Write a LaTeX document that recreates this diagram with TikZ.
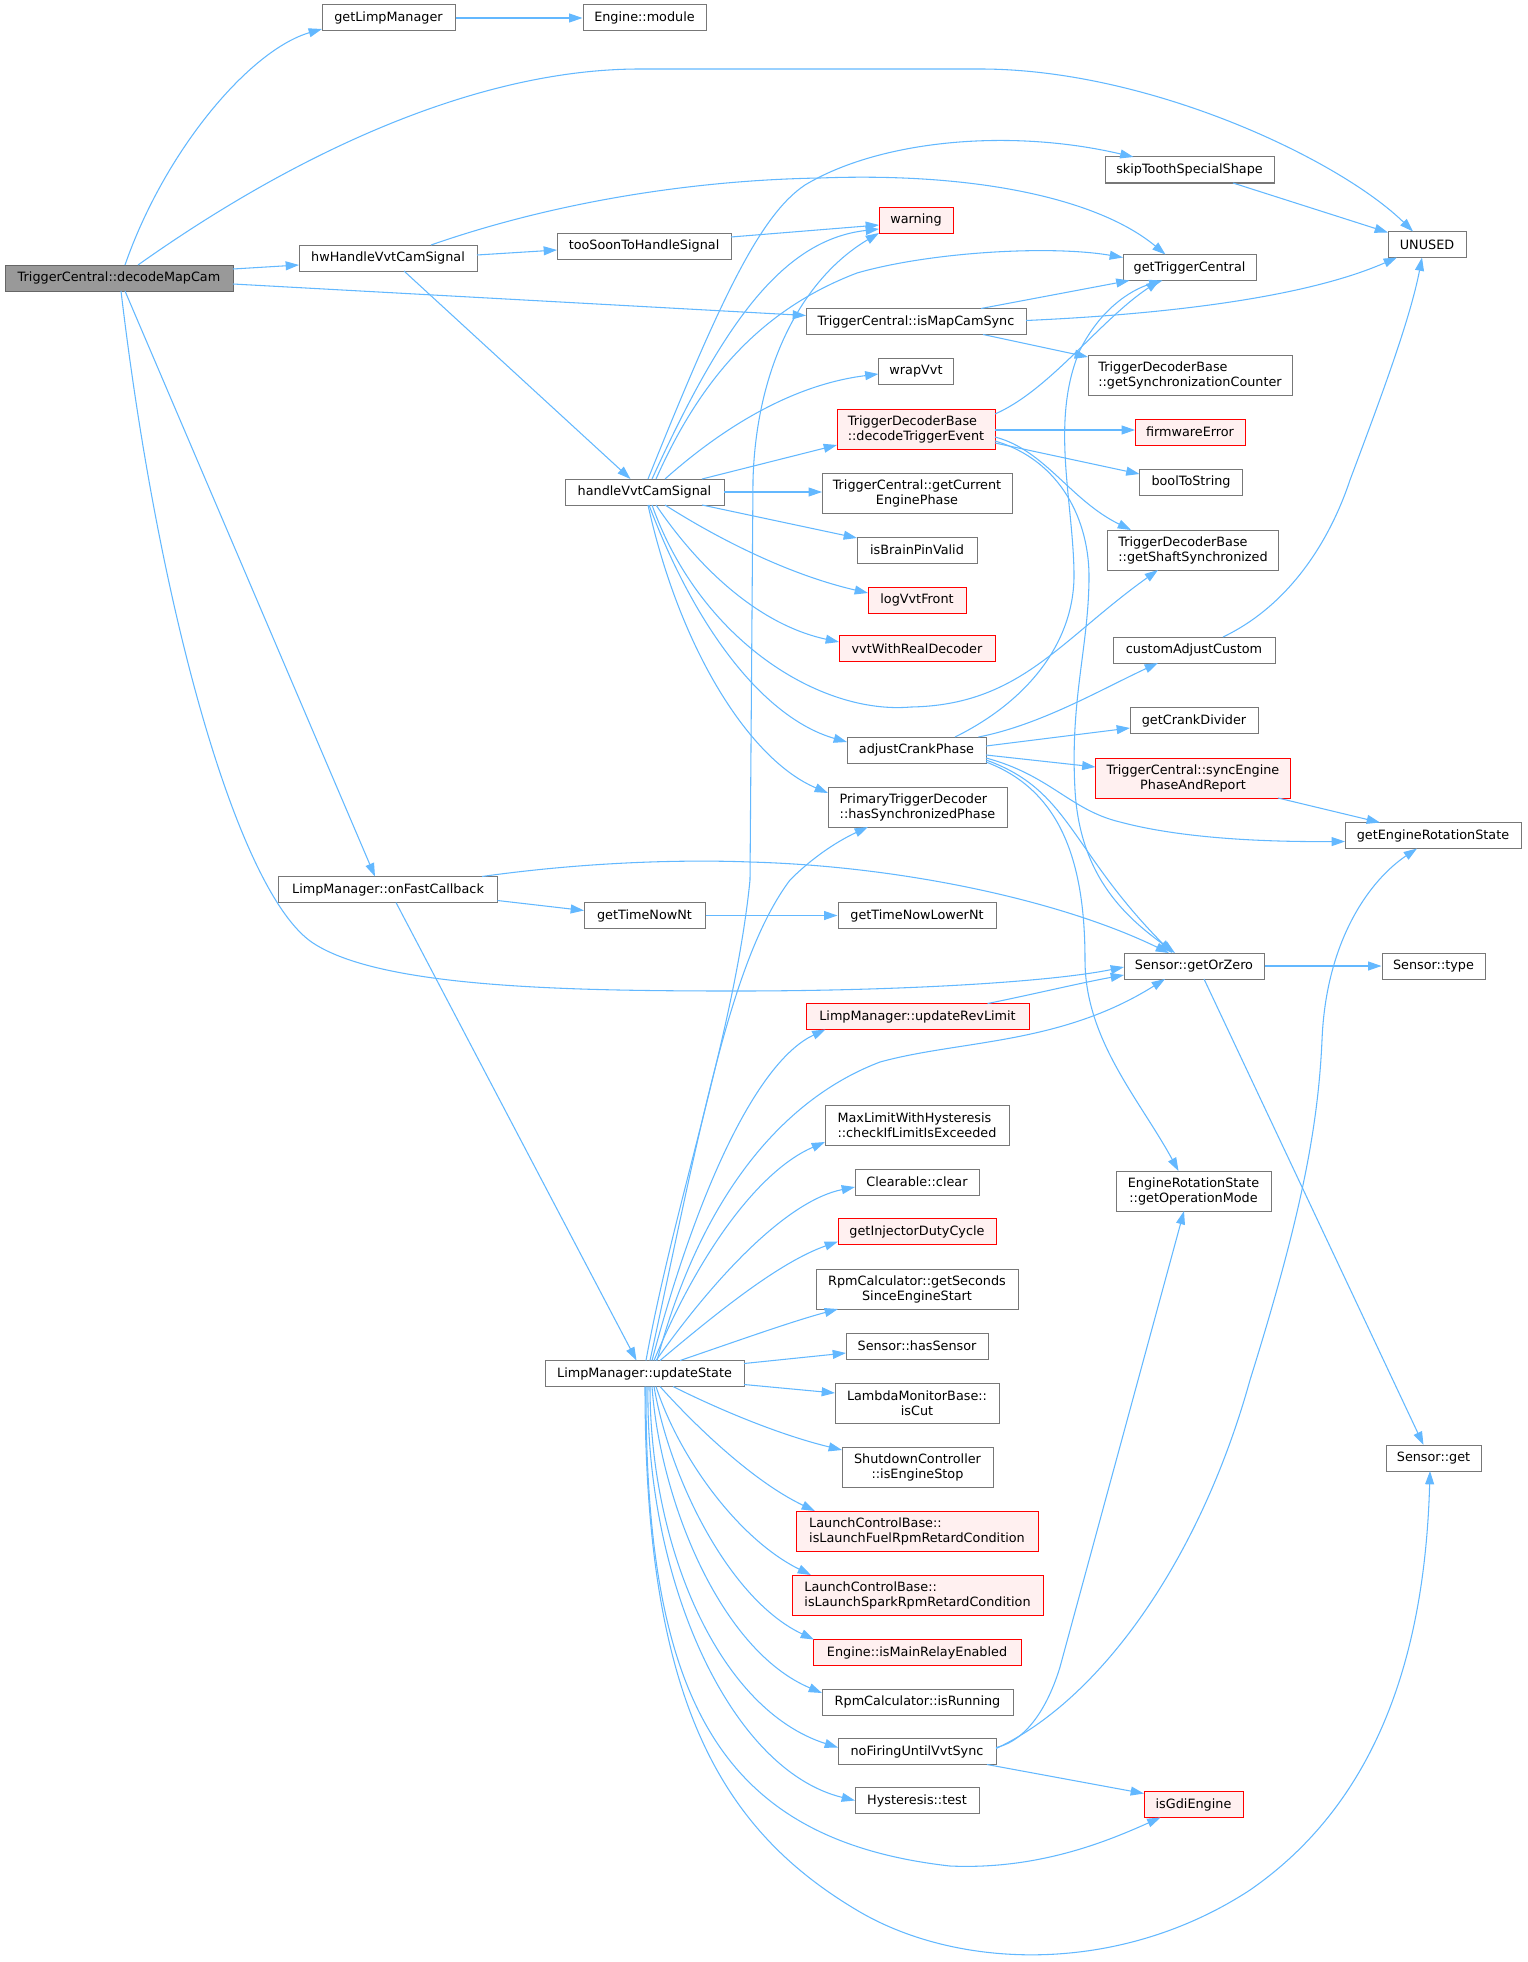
\documentclass[tikz,border=0pt]{standalone}
\usepackage{fontspec}
\usetikzlibrary{arrows.meta,calc}
\newfontfamily\dvs{DejaVu Sans}
\newcommand\fnt{\dvs\fontsize{9.6pt}{11.3pt}\selectfont}
\definecolor{edgec}{HTML}{63B8FF}
\definecolor{nodeg}{HTML}{777777}
\definecolor{rootf}{HTML}{999999}
\definecolor{rootd}{HTML}{666666}
\definecolor{hotf}{HTML}{FFF0F0}
\definecolor{hotd}{HTML}{FF0000}
\tikzset{
  x=0.75pt, y=-0.75pt,
  fn/.style={draw=nodeg, fill=white, line width=0.75pt, inner sep=0pt, minimum height=19.5pt, font=\fnt, text=black},
  W/.style={minimum width=#1*0.75pt},
  two/.style={minimum height=30pt},
  hot/.style={draw=hotd, fill=hotf},
  rootn/.style={draw=rootd, fill=rootf},
  e/.style={draw=edgec, line width=0.8pt, -{Triangle[length=10pt,width=6.7pt]}},
}
\begin{document}
\begin{tikzpicture}
\useasboundingbox (0,0) rectangle (1527,1962);
% nodes
\node[fn,rootn,W=228] (root) at (119,278) {TriggerCentral::decodeMapCam};
\node[fn,W=133] (glm) at (388.5,18) {getLimpManager};
\node[fn,W=123] (emod) at (644.5,18) {Engine::module};
\node[fn,W=178] (hw) at (388,258) {hwHandleVvtCamSignal};
\node[fn,W=174] (tsh) at (644,246) {tooSoonToHandleSignal};
\node[fn,W=159] (hv) at (644.5,492) {handleVvtCamSignal};
\node[fn,W=169] (skip) at (1189.5,170) {skipToothSpecialShape};
\node[fn,hot,W=74] (warn) at (916,220) {warning};
\node[fn,W=133] (gtc) at (1189.5,267.5) {getTriggerCentral};
\node[fn,W=78] (unused) at (1427,244.5) {UNUSED};
\node[fn,W=220] (imcs) at (916,321.5) {TriggerCentral::isMapCamSync};
\node[fn,two,W=204,align=left] (gsc) at (1190,375) {TriggerDecoderBase\\::getSynchronizationCounter};
\node[fn,W=75] (wrap) at (916,371.5) {wrapVvt};
\node[fn,two,hot,W=158,align=left] (dte) at (916,429) {TriggerDecoderBase\\::decodeTriggerEvent};
\node[fn,hot,W=110] (fwe) at (1190,432) {firmwareError};
\node[fn,W=103] (bts) at (1191,482) {boolToString};
\node[fn,two,W=190,align=center] (gcep) at (917,493) {TriggerCentral::getCurrent\\EnginePhase};
\node[fn,two,W=171,align=left] (gss) at (1193,550) {TriggerDecoderBase\\::getShaftSynchronized};
\node[fn,W=120] (bpv) at (917,550) {isBrainPinValid};
\node[fn,hot,W=98] (lvf) at (917,600) {logVvtFront};
\node[fn,hot,W=156] (vrd) at (917,648.5) {vvtWithRealDecoder};
\node[fn,W=162] (cac) at (1194,650) {customAdjustCustom};
\node[fn,W=139] (acp) at (916.5,750) {adjustCrankPhase};
\node[fn,W=128] (gcd) at (1194,720.5) {getCrankDivider};
\node[fn,two,hot,W=195,align=center] (sep) at (1193,778) {TriggerCentral::syncEngine\\PhaseAndReport};
\node[fn,two,W=179,align=left] (hsp) at (917.5,807) {PrimaryTriggerDecoder\\::hasSynchronizedPhase};
\node[fn,W=176] (gers) at (1433,835.5) {getEngineRotationState};
\node[fn,W=219] (ofc) at (388,889.5) {LimpManager::onFastCallback};
\node[fn,W=121] (gtn) at (644.5,915.5) {getTimeNowNt};
\node[fn,W=158] (gtln) at (917,915.5) {getTimeNowLowerNt};
\node[fn,W=140] (goz) at (1194,966) {Sensor::getOrZero};
\node[fn,W=103] (stype) at (1433.5,966) {Sensor::type};
\node[fn,hot,W=223] (url) at (917.5,1016.5) {LimpManager::updateRevLimit};
\node[fn,two,W=184,align=left] (cle) at (917,1125) {MaxLimitWithHysteresis\\::checkIfLimitIsExceeded};
\node[fn,W=124] (clr) at (917,1182) {Clearable::clear};
\node[fn,hot,W=158] (gidc) at (917,1231.5) {getInjectorDutyCycle};
\node[fn,two,W=202,align=center] (gsse) at (917,1289) {RpmCalculator::getSeconds\\SinceEngineStart};
\node[fn,W=142] (hss) at (917,1346) {Sensor::hasSensor};
\node[fn,W=199] (ups) at (644.5,1373.5) {LimpManager::updateState};
\node[fn,two,W=164,align=center] (iscut) at (917,1403) {LambdaMonitorBase::\\isCut};
\node[fn,two,W=151,align=center] (ies) at (917.5,1467) {ShutdownController\\::isEngineStop};
\node[fn,two,hot,W=242,align=left] (ilf) at (917,1531) {LaunchControlBase::\\isLaunchFuelRpmRetardCondition};
\node[fn,two,hot,W=251,align=left] (ils) at (917.5,1595) {LaunchControlBase::\\isLaunchSparkRpmRetardCondition};
\node[fn,hot,W=208] (imr) at (917,1652.5) {Engine::isMainRelayEnabled};
\node[fn,W=191] (irun) at (917.5,1702) {RpmCalculator::isRunning};
\node[fn,W=158] (nfv) at (917,1751.5) {noFiringUntilVvtSync};
\node[fn,W=124] (htest) at (917,1800.5) {Hysteresis::test};
\node[fn,two,W=155,align=center] (gom) at (1193.5,1191) {EngineRotationState\\::getOperationMode};
\node[fn,W=95] (sget) at (1433.5,1458) {Sensor::get};
\node[fn,hot,W=99] (gdi) at (1193.5,1804.5) {isGdiEngine};
% edges from root
\draw[e] ($(root)+(6,-13)$) .. controls (165,150) and (250,50) .. ($(glm)+(-66.5,11)$);
\draw[e] ($(root)+(19,-13)$) .. controls (300,150) and (480,69) .. (640,69) -- (980,69) .. controls (1150,69) and (1340,160) .. ($(unused)+(-14,-13)$);
\draw[e] ($(root)+(114,-9)$) -- ($(hw)+(-89,7)$);
\draw[e] ($(root)+(114,6)$) -- ($(imcs)+(-110,-6)$);
\draw[e] ($(root)+(6,13)$) -- ($(ofc)+(-13,-13)$);
\draw[e] ($(root)+(2,13)$) .. controls (160,620) and (240,895) .. (313,943) .. controls (380,987) and (560,991) .. (736,991) .. controls (900,991) and (1050,982) .. ($(goz)+(-70,1)$);
\draw[e] (glm.east) -- (emod.west);
% hwHandleVvtCamSignal
\draw[e] ($(hw)+(89,-3)$) -- ($(tsh)+(-87,4)$);
\draw[e] ($(hw)+(43,-13)$) .. controls (560,200) and (700,180) .. (820,178) .. controls (980,172) and (1100,200) .. ($(gtc)+(-24,-13)$);
\draw[e] ($(hw)+(16,13)$) -- ($(hv)+(-14,-13)$);
\draw[e] ($(tsh)+(87,-9)$) -- ($(warn)+(-37,5)$);
% handleVvtCamSignal
\draw[e] ($(hv)+(3.5,-13)$) .. controls (720,300) and (760,215) .. (805,185) .. controls (880,140) and (1010,128) .. ($(skip)+(-56,-13)$);
\draw[e] ($(hv)+(7.5,-13)$) .. controls (720,330) and (780,240) .. ($(warn)+(-37,9)$);
\draw[e] ($(hv)+(11.5,-13)$) .. controls (700,380) and (760,310) .. (857,273) .. controls (930,252) and (1050,245) .. ($(gtc)+(-66.5,-10)$);
\draw[e] ($(hv)+(20.5,-13)$) .. controls (720,430) and (790,385) .. ($(wrap)+(-37.5,2.5)$);
\draw[e] ($(hv)+(57.5,-13)$) -- ($(dte)+(-79,16)$);
\draw[e] ($(hv)+(79.5,0)$) -- ($(gcep)+(-95,-1)$);
\draw[e] ($(hv)+(57.5,13)$) -- ($(bpv)+(-60,-12)$);
\draw[e] ($(hv)+(20.5,13)$) .. controls (720,540) and (790,575) .. ($(lvf)+(-49,-7)$);
\draw[e] ($(hv)+(11.5,13)$) .. controls (700,570) and (760,625) .. ($(vrd)+(-78,-6.5)$);
\draw[e] ($(hv)+(7.5,13)$) .. controls (700,640) and (820,715) .. (911,707) .. controls (1020,705) and (1060,640) .. ($(gss)+(-35,20)$);
\draw[e] ($(hv)+(4.5,13)$) .. controls (700,640) and (770,720) .. ($(acp)+(-69.5,-8)$);
\draw[e] ($(hv)+(3.5,13)$) .. controls (680,650) and (750,760) .. ($(hsp)+(-89.5,-14)$);
% isMapCamSync, skipTooth
\draw[e] ($(imcs)+(65,-13)$) -- ($(gtc)+(-60,13)$);
\draw[e] ($(imcs)+(110,-1)$) .. controls (1150,315) and (1300,300) .. ($(unused)+(-30,13)$);
\draw[e] ($(imcs)+(67,13)$) -- ($(gsc)+(-102,-18)$);
\draw[e] ($(skip)+(43.5,13)$) -- ($(unused)+(-39,-12)$);
% decodeTriggerEvent
\draw[e] ($(dte)+(79,-15)$) .. controls (1050,390) and (1100,320) .. ($(gtc)+(-30,13)$);
\draw[e] ($(dte)+(79,1)$) -- ($(fwe)+(-55,-2)$);
\draw[e] ($(dte)+(79,14)$) -- ($(bts)+(-51.5,-8)$);
\draw[e] ($(dte)+(79,8)$) .. controls (1045,450) and (1070,500) .. ($(gss)+(-62,-20)$);
\draw[e] ($(dte)+(79,12)$) .. controls (1060,460) and (1090,520) .. (1089,580) .. controls (1088,650) and (1070,700) .. (1075,790) .. controls (1080,880) and (1130,920) .. ($(goz)+(-19,-13)$);
% adjustCrankPhase
\draw[e] ($(acp)+(38.5,-13)$) .. controls (1030,700) and (1075,640) .. (1074,573) .. controls (1073,500) and (1050,420) .. (1080,350) .. controls (1100,310) and (1130,290) .. ($(gtc)+(-27,13)$);
\draw[e] ($(acp)+(62,-13)$) .. controls (1040,725) and (1100,690) .. ($(cac)+(-36,13)$);
\draw[e] ($(acp)+(69.5,-4)$) -- ($(gcd)+(-64,7.5)$);
\draw[e] ($(acp)+(69.5,5)$) -- ($(sep)+(-97.5,-11)$);
\draw[e] ($(acp)+(69.5,8)$) .. controls (1050,775) and (1070,810) .. (1120,822) .. controls (1180,838) and (1260,842) .. ($(gers)+(-88,6)$);
\draw[e] ($(acp)+(69.5,10)$) .. controls (1070,790) and (1070,850) .. ($(goz)+(-22,-13)$);
\draw[e] ($(acp)+(69.5,12)$) .. controls (1060,790) and (1085,860) .. (1085,960) .. controls (1085,1040) and (1140,1100) .. ($(gom)+(-15,-20)$);
\draw[e] ($(sep)+(85,20)$) -- ($(gers)+(-53,-13)$);
\draw[e] ($(cac)+(29,-13)$) .. controls (1290,605) and (1330,540) .. (1350,480) .. controls (1380,400) and (1410,320) .. ($(unused)+(-5,13)$);
% Sensor::getOrZero
\draw[e] (goz.east) -- (stype.west);
\draw[e] ($(goz)+(10,13)$) -- ($(sget)+(-10,-13)$);
\draw[e] ($(url)+(70,-13)$) .. controls (1030,995) and (1080,983) .. ($(goz)+(-70,9)$);
% onFastCallback
\draw[e] ($(ofc)+(94,-13)$) .. controls (600,860) and (700,860) .. (750,862) .. controls (900,866) and (1060,900) .. ($(goz)+(-25,-13)$);
\draw[e] ($(ofc)+(109.5,11)$) -- ($(gtn)+(-60.5,-5)$);
\draw[e] ($(ofc)+(8,13)$) -- ($(ups)+(-8,-13)$);
\draw[e] (gtn.east) -- (gtln.west);
% updateState
\draw[e] ($(ups)+(1.5,-13)$) .. controls (675,1200) and (735,1030) .. (750,880) -- (753,480) .. controls (756,370) and (800,280) .. ($(warn)+(-37,13)$);
\draw[e] ($(ups)+(5.5,-13)$) .. controls (700,1130) and (730,960) .. (790,880) .. controls (815,855) and (840,840) .. ($(hsp)+(-49.5,20)$);
\draw[e] ($(ups)+(7.5,-13)$) .. controls (700,1180) and (760,1060) .. ($(url)+(-92,13)$);
\draw[e] ($(ups)+(12.5,-13)$) .. controls (700,1200) and (780,1100) .. (880,1062) .. controls (960,1040) and (1060,1045) .. ($(goz)+(-29,13)$);
\draw[e] ($(ups)+(9.5,-13)$) .. controls (700,1250) and (760,1170) .. ($(cle)+(-92,17)$);
\draw[e] ($(ups)+(11.5,-13)$) .. controls (720,1270) and (790,1200) .. ($(clr)+(-62,5)$);
\draw[e] ($(ups)+(15.5,-13)$) .. controls (720,1310) and (780,1262) .. ($(gidc)+(-79,10)$);
\draw[e] ($(ups)+(35.5,-13)$) .. controls (740,1340) and (790,1322) .. ($(gsse)+(-79,20)$);
\draw[e] ($(ups)+(99.5,-10)$) -- ($(hss)+(-71,7)$);
\draw[e] ($(ups)+(99.5,11)$) -- ($(iscut)+(-82,-10)$);
\draw[e] ($(ups)+(28.5,13)$) .. controls (720,1410) and (780,1435) .. ($(ies)+(-75.5,-17)$);
\draw[e] ($(ups)+(15.5,13)$) .. controls (690,1420) and (750,1480) .. ($(ilf)+(-102,-20)$);
\draw[e] ($(ups)+(11.5,13)$) .. controls (680,1460) and (740,1540) .. ($(ils)+(-106.5,-20)$);
\draw[e] ($(ups)+(9.5,13)$) .. controls (670,1480) and (730,1600) .. ($(imr)+(-103,-13)$);
\draw[e] ($(ups)+(7.5,13)$) .. controls (660,1500) and (720,1650) .. ($(irun)+(-95.5,-9)$);
\draw[e] ($(ups)+(5.5,13)$) .. controls (650,1550) and (720,1710) .. ($(nfv)+(-79,-4)$);
\draw[e] ($(ups)+(3.5,13)$) .. controls (645,1580) and (730,1770) .. ($(htest)+(-62,0)$);
\draw[e] ($(ups)+(1.5,13)$) .. controls (645,1700) and (720,1840) .. (950,1866) .. controls (1040,1870) and (1110,1840) .. ($(gdi)+(-33,13)$);
\draw[e] ($(ups)+(0.5,13)$) .. controls (645,1700) and (720,1830) .. (860,1912) .. controls (960,1970) and (1120,1975) .. (1250,1890) .. controls (1380,1800) and (1425,1650) .. ($(sget)+(-3.5,13)$);
% noFiringUntilVvtSync
\draw[e] ($(nfv)+(79,-4)$) .. controls (1030,1740) and (1050,1700) .. (1060,1667) -- ($(gom)+(-9.5,20)$);
\draw[e] ($(nfv)+(79,-3)$) .. controls (1100,1700) and (1200,1560) .. (1250,1380) .. controls (1300,1220) and (1318,1130) .. (1322,1040) .. controls (1326,940) and (1370,880) .. ($(gers)+(-16,13)$);
\draw[e] ($(nfv)+(70,13)$) -- ($(gdi)+(-49.5,-11)$);
\end{tikzpicture}
\end{document}
